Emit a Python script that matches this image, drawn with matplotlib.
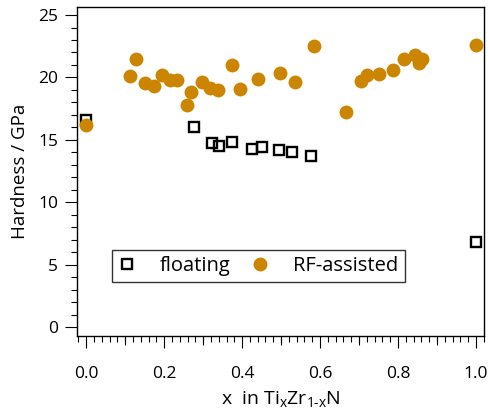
import numpy as np
import matplotlib
matplotlib.use("Agg")
import matplotlib.pyplot as plt
from matplotlib.ticker import MultipleLocator

plt.rcParams['font.family'] = ['Open Sans', 'DejaVu Sans']
plt.rcParams['mathtext.fontset'] = 'custom'
plt.rcParams['mathtext.rm'] = 'Open Sans'
plt.rcParams['mathtext.it'] = 'Open Sans'

# data
x_float = [0.0, 0.276, 0.322, 0.340, 0.374, 0.425, 0.450, 0.494, 0.527, 0.578, 1.0]
h_float = [16.6, 16.0, 14.77, 14.53, 14.82, 14.29, 14.42, 14.18, 14.07, 13.73, 6.87]

x_rf = [0.0, 0.113, 0.127, 0.150, 0.175, 0.194, 0.214, 0.232, 0.258, 0.270,
        0.298, 0.317, 0.339, 0.375, 0.394, 0.442, 0.497, 0.536, 0.585, 0.667,
        0.705, 0.720, 0.752, 0.787, 0.815, 0.844, 0.854, 0.862, 1.0]
h_rf = [16.19, 20.14, 21.45, 19.55, 19.31, 20.19, 19.77, 19.77, 17.79, 18.80,
        19.6, 19.18, 19.02, 20.99, 19.07, 19.84, 20.38, 19.63, 22.49, 17.23,
        19.71, 20.22, 20.27, 20.62, 21.5, 21.82, 21.15, 21.45, 22.6]

fig = plt.figure(figsize=(4.89, 4.15), dpi=100)
ax = fig.add_axes([0.158, 0.191, 0.832, 0.793])

ax.plot(x_float, h_float, ls='none', marker='s', ms=7.8, mfc='none', mec='black',
        mew=1.7, label='floating', zorder=3)
ax.plot(x_rf, h_rf, ls='none', marker='o', ms=10, mfc='#cc8500', mec='#cc8500',
        mew=0, label='RF-assisted', zorder=4)

ax.set_xlim(-0.023, 1.021)
ax.set_ylim(-0.67, 25.67)
ax.xaxis.set_major_locator(MultipleLocator(0.2))
ax.xaxis.set_minor_locator(MultipleLocator(0.02))
ax.yaxis.set_major_locator(MultipleLocator(5))
ax.yaxis.set_minor_locator(MultipleLocator(1))
ax.xaxis.set_major_formatter(matplotlib.ticker.FormatStrFormatter('%.1f'))

ax.tick_params(which='major', direction='out', length=8.6, width=0.8, labelsize=12.5)
ax.tick_params(axis='x', which='major', pad=13)
ax.tick_params(axis='y', which='major', pad=5)
ax.tick_params(which='minor', direction='out', length=4.3, width=0.8)
ax.tick_params(top=False, right=False)

# medium ticks at odd tenths
sec = ax.secondary_xaxis('bottom')
sec.set_xticks([0.1, 0.3, 0.5, 0.7, 0.9])
sec.tick_params(direction='out', length=6.5, width=0.8, labelbottom=False)
sec.spines['bottom'].set_visible(False)

for s in ax.spines.values():
    s.set_linewidth(1.0)

ax.set_xlabel(r'x  in Ti$_\mathregular{x}$Zr$_\mathregular{1\text{-}x}$N', fontsize=14, labelpad=5)
ax.set_ylabel('Hardness / GPa', fontsize=13.5, labelpad=7)

leg = ax.legend(loc='lower left', bbox_to_anchor=(0.085, 0.163), borderaxespad=0,
                ncol=2, fontsize=14.5, frameon=True, fancybox=False, handlelength=0.9,
                handletextpad=1.2, columnspacing=1.0, borderpad=0.3)
leg.get_frame().set_edgecolor('black')
leg.get_frame().set_linewidth(1.0)

fig.savefig('out.png', dpi=100)
